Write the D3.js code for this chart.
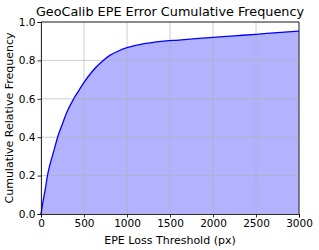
<!DOCTYPE html>
<html>
<head>
<meta charset="utf-8">
<script src="https://cdn.jsdelivr.net/npm/d3@7"></script>
<style>
  body { margin: 0; background: #fff; }
  text { font-family: "DejaVu Sans", sans-serif; }
</style>
</head>
<body>
<script>
// threshold (px) and cumulative frequency
const thresholds = [0, 25, 50, 75, 100, 150, 200, 250, 300, 380, 450, 500, 600, 720, 800, 900, 1000, 1100, 1200, 1400, 1600, 1800, 2000, 2250, 2500, 2750, 3000]
const cumFreq = [0, 0.07, 0.13, 0.2, 0.25, 0.33, 0.41, 0.47, 0.53, 0.6, 0.65, 0.685, 0.745, 0.798, 0.826, 0.849, 0.866, 0.878, 0.887, 0.899, 0.906, 0.913, 0.92, 0.928, 0.936, 0.945, 0.953]
const xTicks = [0, 500, 1000, 1500, 2000, 2500, 3000]
const yTicks = [0, 0.2, 0.4, 0.6, 0.8, 1.0]

const width = 319, height = 250
const margin = {top: 22, right: 20, bottom: 36, left: 41}

const data = thresholds.map((t, i) => ({x: t, y: cumFreq[i]}))

const svg = d3.select('body').append('svg')
    .attr('width', width)
    .attr('height', height)

const xScale = d3.scaleLinear()
    .domain([0, 3000])
    .range([margin.left, width - margin.right])

const yScale = d3.scaleLinear()
    .domain([0, 1])
    .range([height - margin.bottom, margin.top])

// filled area + line
const area = d3.area()
    .x(d => xScale(d.x))
    .y0(yScale(0))
    .y1(d => yScale(d.y))
    .curve(d3.curveMonotoneX)
svg.append('path')
    .datum(data)
    .attr('fill', 'rgba(0,0,255,0.3)')
    .attr('d', area)

// grid (drawn over the fill)
svg.append('g').selectAll('line').data(xTicks)
    .enter().append('line')
    .attr('x1', d => xScale(d)).attr('x2', d => xScale(d))
    .attr('y1', margin.top).attr('y2', height - margin.bottom)
    .attr('stroke', '#b0b0b0').attr('stroke-opacity', 0.8).attr('stroke-width', 0.8)
svg.append('g').selectAll('line').data(yTicks)
    .enter().append('line')
    .attr('x1', margin.left).attr('x2', width - margin.right)
    .attr('y1', d => yScale(d)).attr('y2', d => yScale(d))
    .attr('stroke', '#b0b0b0').attr('stroke-opacity', 0.8).attr('stroke-width', 0.8)

const line = d3.line()
    .x(d => xScale(d.x))
    .y(d => yScale(d.y))
    .curve(d3.curveMonotoneX)
svg.append('path')
    .datum(data)
    .attr('fill', 'none')
    .attr('stroke', '#0000ff')
    .attr('stroke-width', 1.3)
    .attr('d', line)

// axes
svg.append('g')
    .attr('transform', 'translate(0,' + (height - margin.bottom) + ')')
    .call(d3.axisBottom(xScale).tickValues(xTicks).tickFormat(d3.format('d')).tickSize(3.5).tickPadding(2))
svg.append('g')
    .attr('transform', 'translate(' + margin.left + ',0)')
    .call(d3.axisLeft(yScale).tickValues(yTicks).tickFormat(d3.format('.1f')).tickSize(3.5).tickPadding(2))
svg.selectAll('.tick text')
    .style('font-family', '"DejaVu Sans", sans-serif')
    .style('font-size', '10.5px')
    .attr('fill', '#000')
svg.selectAll('.domain').attr('stroke', '#000').attr('stroke-width', 0.8)
svg.selectAll('.tick line').attr('stroke', '#000').attr('stroke-width', 0.8)

// top/right spines
svg.append('line')
    .attr('x1', margin.left).attr('x2', width - margin.right)
    .attr('y1', margin.top).attr('y2', margin.top)
    .attr('stroke', '#000').attr('stroke-width', 0.8)
svg.append('line')
    .attr('x1', width - margin.right).attr('x2', width - margin.right)
    .attr('y1', margin.top).attr('y2', height - margin.bottom)
    .attr('stroke', '#000').attr('stroke-width', 0.8)

// labels
svg.append('text')
    .attr('x', (margin.left + width - margin.right) / 2)
    .attr('y', 16)
    .attr('text-anchor', 'middle')
    .style('font-size', '12.8px')
    .text('GeoCalib EPE Error Cumulative Frequency')

svg.append('text')
    .attr('x', (margin.left + width - margin.right) / 2)
    .attr('y', 244)
    .attr('text-anchor', 'middle')
    .style('font-size', '11px')
    .text('EPE Loss Threshold (px)')

svg.append('text')
    .attr('transform', 'translate(13,' + ((margin.top + height - margin.bottom) / 2) + ') rotate(-90)')
    .attr('text-anchor', 'middle')
    .style('font-size', '11px')
    .text('Cumulative Relative Frequency')
</script>
</body>
</html>
